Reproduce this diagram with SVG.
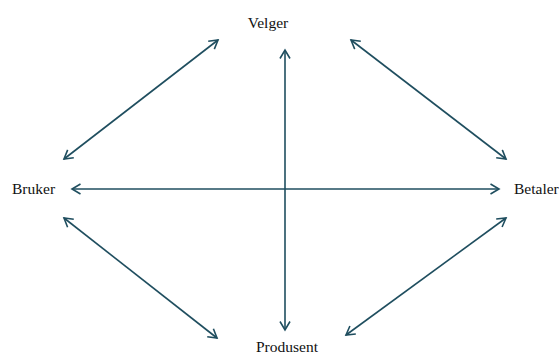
<svg xmlns="http://www.w3.org/2000/svg" width="559" height="354" viewBox="0 0 559 354">
<style>
.lbl{font-family:'Liberation Serif','DejaVu Serif',serif;font-size:15.5px;fill:#111}
.c{stroke:#1f4e5f;stroke-width:1.6;fill:none;marker-start:url(#ah);marker-end:url(#ah)}
</style>
<defs>
<marker id="ah" viewBox="0 0 12 12" refX="10" refY="6" markerWidth="12" markerHeight="12" markerUnits="userSpaceOnUse" orient="auto-start-reverse">
<path d="M1.5,1 L10,6 L1.5,11" fill="none" stroke="#1f4e5f" stroke-width="1.6"/>
</marker>
</defs>
<rect width="559" height="354" fill="#fff"/>
<g id="connectors">
<line class="c" x1="64" y1="159" x2="218" y2="40"/>
<line class="c" x1="351" y1="40" x2="506" y2="159"/>
<line class="c" x1="285" y1="50" x2="285" y2="330"/>
<line class="c" x1="72" y1="189" x2="499" y2="189"/>
<line class="c" x1="64" y1="218" x2="217" y2="338"/>
<line class="c" x1="506" y1="218" x2="346" y2="335"/>
</g>
<g id="velger"><text class="lbl" font-family="Liberation Serif, serif" x="268" y="28" text-anchor="middle">Velger</text></g>
<g id="bruker"><text class="lbl" font-family="Liberation Serif, serif" x="12" y="194">Bruker</text></g>
<g id="betaler"><text class="lbl" font-family="Liberation Serif, serif" x="514" y="194">Betaler</text></g>
<g id="produsent"><text class="lbl" font-family="Liberation Serif, serif" x="287" y="352" text-anchor="middle">Produsent</text></g>
</svg>
